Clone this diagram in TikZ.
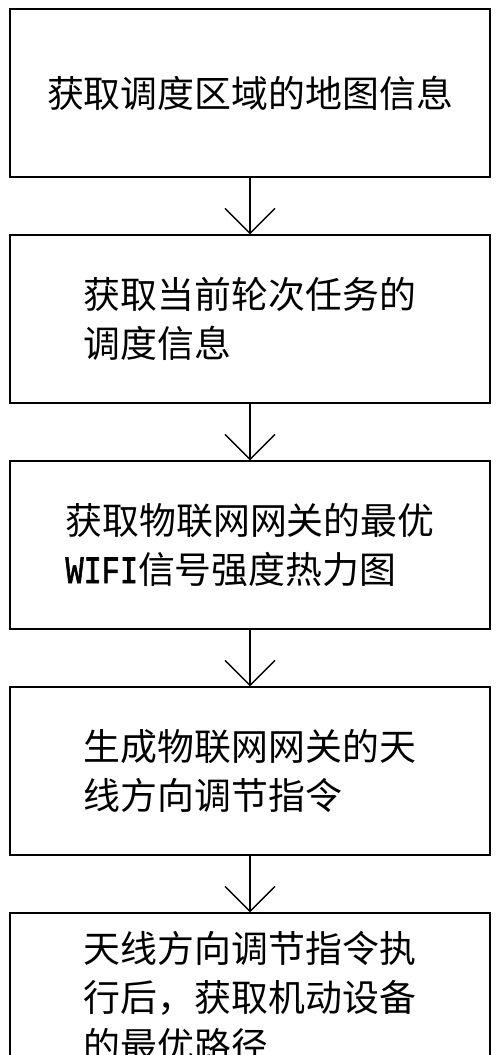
\documentclass[tikz,border=0pt]{standalone}
\usepackage{fontspec}
\setmainfont{Noto Sans CJK SC}
\newfontfamily\wifimono{Liberation Mono}[Scale=1.05,FakeStretch=0.78,FakeBold=1.5]
\usetikzlibrary{arrows.meta}

\begin{document}
\begin{tikzpicture}[
		stepbox/.style={draw,line width=0.8pt,minimum width=9.6cm,minimum height=3.36cm,
			inner sep=0pt,align=left,font=\fontsize{21}{27.4}\selectfont},
		flow/.style={line width=0.8pt,-{Straight Barb[length=0.5cm,width=1cm,line width=0.8pt]}}]
		\clip (0,0) rectangle (10,-21.1);
		\node[stepbox] (map) at (5,-1.86) {获取调度区域的地图信息};
		\node[stepbox] (task) at (5,-6.38) {获取当前轮次任务的\\调度信息};
		\node[stepbox] (heat) at (5,-10.9) {获取物联网网关的最优\\{\wifimono WIFI}信号强度热力图};
		\node[stepbox] (cmd) at (5,-15.42) {生成物联网网关的天\\线方向调节指令};
		\node[stepbox] (path) at (5,-19.94) {天线方向调节指令执\\行后，获取机动设备\\的最优路径};
		\draw[flow] (map) -- (task);
		\draw[flow] (task) -- (heat);
		\draw[flow] (heat) -- (cmd);
		\draw[flow] (cmd) -- (path);
	\end{tikzpicture}
\end{document}
